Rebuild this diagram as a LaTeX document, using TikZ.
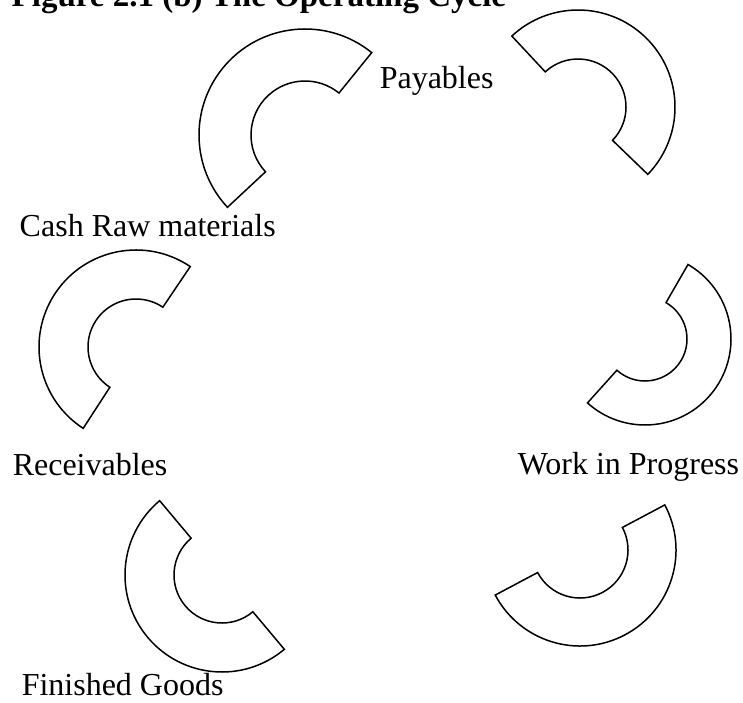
\documentclass[tikz,border=0pt]{standalone}
\usepackage{fontspec}
\setmainfont{Liberation Serif}
\begin{document}
\begin{tikzpicture}[x=1pt,y=1pt,line width=1.5pt,
    lbl/.style={anchor=base west,inner sep=0pt,font=\fontsize{32}{37}\selectfont}]
    \clip (0,0) rectangle (743,702);

    % title, cut at the top edge
    \node (title) [lbl,font=\fontsize{33}{38}\selectfont\bfseries] at (11,695)
    {Figure 2.1 (b) The Operating Cycle};

    % block arcs round the cycle
    \begin{scope}[shift={(305,567)}]
    \draw (51:106) arc[start angle=51,end angle=223,radius=106]
    -- (223:54) arc[start angle=223,end angle=51,radius=54] -- cycle;
    \end{scope}

    \begin{scope}[shift={(578,595)}]
    \draw (-44:97) arc[start angle=-44,end angle=133,radius=97]
    -- (133:48) arc[start angle=133,end angle=-44,radius=48] -- cycle;
    \end{scope}

    \begin{scope}[shift={(136,355)}]
    \draw (56:97) arc[start angle=56,end angle=237,radius=97]
    -- (237:48) arc[start angle=237,end angle=56,radius=48] -- cycle;
    \end{scope}

    \begin{scope}[shift={(645,363)}]
    \draw (-132:86) arc[start angle=-132,end angle=60,radius=86]
    -- (60:42) arc[start angle=60,end angle=-132,radius=42] -- cycle;
    \end{scope}

    \begin{scope}[shift={(222,127)}]
    \draw (130:97) arc[start angle=130,end angle=310,radius=97]
    -- (310:48) arc[start angle=310,end angle=130,radius=48] -- cycle;
    \end{scope}

    \begin{scope}[shift={(580,152)}]
    \draw (208:96) arc[start angle=208,end angle=388,radius=96]
    -- (388:48) arc[start angle=388,end angle=208,radius=48] -- cycle;
    \end{scope}

    % stage names
    \node (payables) [lbl] at (379,613) {Payables};
    \node (cashraw) [lbl] at (19,465) {Cash Raw materials};
    \node (receivables) [lbl] at (12,227) {Receivables};
    \node (wip) [lbl] at (517,228) {Work in Progress};
    \node (finished) [lbl] at (21,7) {Finished Goods};

\end{tikzpicture}
\end{document}
